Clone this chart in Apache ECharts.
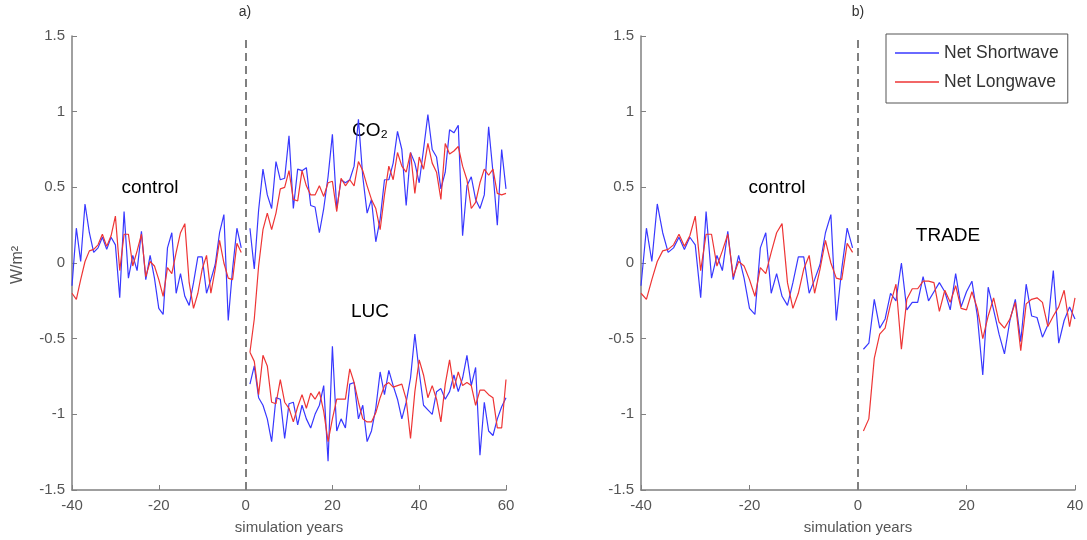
<!DOCTYPE html>
<html>
<head>
<meta charset="utf-8">
<script src="https://cdn.jsdelivr.net/npm/echarts@6/dist/echarts.min.js"></script>
<style>html,body{margin:0;padding:0;background:#fff;}#c{width:1087px;height:540px;}</style>
</head>
<body>
<div id="c"></div>
<script>
// ---- data ----
const yTicks = [-1.5, -1, -0.5, 0, 0.5, 1, 1.5];
const controlStart = -40;   // control years -40 .. -1
const expStart = 1;         // experiment years 1 .. N

const controlSW = [-0.15, 0.23, 0.01, 0.39, 0.2, 0.07, 0.1, 0.17, 0.09, 0.17,
  0.12, -0.23, 0.34, -0.1, 0.05, -0.05, 0.21, -0.11, 0.05, -0.1,
  -0.3, -0.34, 0.1, 0.2, -0.2, -0.07, -0.22, -0.28, -0.13, 0.04,
  0.04, -0.2, -0.11, -0.01, 0.2, 0.32, -0.38, -0.04, 0.23, 0.1];
const controlLW = [-0.2, -0.24, -0.11, 0.01, 0.08, 0.09, 0.12, 0.19, 0.11, 0.18,
  0.31, -0.05, 0.19, 0.19, -0.02, 0.08, 0.19, -0.09, 0.01, -0.02,
  -0.11, -0.22, -0.03, -0.07, 0.07, 0.2, 0.26, -0.13, -0.3, -0.2,
  -0.04, 0.05, -0.2, -0.04, 0.15, 0.0, -0.1, -0.11, 0.13, 0.07];

const co2SW = [0.23, -0.04, 0.35, 0.62, 0.45, 0.36, 0.67, 0.55, 0.56, 0.84,
  0.36, 0.62, 0.61, 0.63, 0.38, 0.37, 0.2, 0.36, 0.57, 0.85,
  0.36, 0.55, 0.53, 0.55, 0.64, 0.95, 0.57, 0.33, 0.42, 0.14,
  0.29, 0.55, 0.55, 0.66, 0.87, 0.75, 0.38, 0.73, 0.66, 0.53,
  0.75, 0.98, 0.75, 0.7, 0.49, 0.6, 0.88, 0.86, 0.91, 0.18,
  0.51, 0.57, 0.42, 0.36, 0.45, 0.9, 0.6, 0.25, 0.75, 0.49];
const co2LW = [-0.59, -0.37, -0.02, 0.22, 0.33, 0.22, 0.33, 0.49, 0.5, 0.61,
  0.42, 0.41, 0.61, 0.51, 0.45, 0.45, 0.51, 0.44, 0.53, 0.54,
  0.34, 0.56, 0.51, 0.55, 0.51, 0.67, 0.61, 0.51, 0.42, 0.36,
  0.22, 0.45, 0.64, 0.55, 0.73, 0.64, 0.6, 0.73, 0.46, 0.7,
  0.62, 0.79, 0.66, 0.6, 0.42, 0.79, 0.72, 0.74, 0.77, 0.64,
  0.55, 0.36, 0.4, 0.53, 0.62, 0.58, 0.62, 0.46, 0.45, 0.46];

const lucSW = [-0.8, -0.68, -0.89, -0.94, -1.03, -1.18, -0.89, -0.9, -1.16, -0.93,
  -0.92, -1.07, -0.94, -1.03, -1.09, -1.0, -0.94, -0.81, -1.31, -0.55,
  -1.11, -1.03, -1.09, -0.8, -0.79, -1.03, -0.94, -1.18, -1.11, -0.96,
  -0.72, -0.87, -0.71, -0.81, -0.9, -1.03, -0.92, -0.76, -0.47, -0.72,
  -0.94, -0.97, -1.0, -0.85, -0.83, -0.9, -0.85, -0.74, -0.85, -0.76,
  -0.61, -0.81, -0.69, -1.27, -0.92, -1.11, -1.14, -1.03, -0.95, -0.89];
const lucLW = [-0.59, -0.65, -0.87, -0.61, -0.68, -0.92, -0.93, -0.77, -0.92, -0.96,
  -1.05, -0.95, -0.87, -0.96, -0.86, -0.9, -0.85, -0.98, -1.18, -1.03,
  -0.9, -0.9, -0.9, -0.7, -0.79, -0.92, -1.03, -1.05, -1.05, -0.99,
  -0.89, -0.81, -0.79, -0.82, -0.81, -0.8, -0.9, -1.16, -0.85, -0.64,
  -0.74, -0.89, -0.81, -0.9, -1.05, -0.8, -0.64, -0.83, -0.72, -0.81,
  -0.79, -0.81, -0.94, -0.84, -0.84, -0.87, -0.89, -1.09, -1.09, -0.77];

const tradeSW = [-0.57, -0.53, -0.24, -0.43, -0.37, -0.2, -0.25, 0.0, -0.31, -0.26,
  -0.26, -0.09, -0.25, -0.19, -0.13, -0.19, -0.31, -0.07, -0.29, -0.19,
  -0.12, -0.35, -0.74, -0.16, -0.31, -0.47, -0.6, -0.38, -0.24, -0.52,
  -0.14, -0.35, -0.36, -0.49, -0.41, -0.05, -0.53, -0.38, -0.29, -0.37];
const tradeLW = [-1.11, -1.03, -0.63, -0.47, -0.43, -0.27, -0.14, -0.57, -0.24, -0.17,
  -0.17, -0.12, -0.12, -0.13, -0.32, -0.18, -0.26, -0.15, -0.3, -0.31,
  -0.19, -0.3, -0.5, -0.35, -0.23, -0.39, -0.43, -0.37, -0.26, -0.58,
  -0.27, -0.24, -0.23, -0.26, -0.42, -0.35, -0.29, -0.18, -0.42, -0.23];

const nameSW = 'Net Shortwave';
const nameLW = 'Net Longwave';

// ---- chart ----
const BLUE = '#3838ff';
const RED = '#ee3535';
const AXIS = '#808080';
const FONT = "'Liberation Sans', Arial, sans-serif";

function pairs(start, vals) { return vals.map((v, i) => [start + i, v]); }

function line(name, color, idx, start, vals, extra) {
  return Object.assign({
    type: 'line', name: name, xAxisIndex: idx, yAxisIndex: idx,
    data: pairs(start, vals), symbol: 'none', showSymbol: false,
    lineStyle: { width: 1.2, color: color }, itemStyle: { color: color },
    silent: true, animation: false
  }, extra || {});
}

const zeroLine = {
  markLine: {
    silent: true, symbol: 'none', label: { show: false },
    lineStyle: { color: AXIS, width: 2, type: [8, 5] },
    data: [{ xAxis: 0 }]
  }
};

function xAxis(idx, max) {
  return {
    type: 'value', gridIndex: idx, min: -40, max: max, interval: 20,
    name: 'simulation years', nameLocation: 'middle', nameGap: 30,
    nameTextStyle: { color: '#555', fontSize: 15, fontFamily: FONT },
    axisLine: { show: true, onZero: false, lineStyle: { color: AXIS, width: 1.5 } },
    axisTick: { show: true, inside: true, length: 5, lineStyle: { color: AXIS } },
    axisLabel: { color: '#555', fontSize: 15, fontFamily: FONT, margin: 8 },
    splitLine: { show: false }
  };
}
function yAxis(idx) {
  return {
    type: 'value', gridIndex: idx, min: yTicks[0], max: yTicks[yTicks.length - 1], interval: 0.5,
    axisLine: { show: true, onZero: false, lineStyle: { color: AXIS, width: 1.5 } },
    axisTick: { show: true, inside: true, length: 5, lineStyle: { color: AXIS } },
    axisLabel: { color: '#555', fontSize: 15, fontFamily: FONT, margin: 7 },
    splitLine: { show: false }
  };
}

const txt = (x, y, s, size, color, extra) => Object.assign({
  type: 'text', x: x, y: y, silent: true,
  style: { text: s, fill: color || '#000', fontSize: size, fontFamily: FONT,
           textAlign: 'center', textVerticalAlign: 'middle' }
}, extra || {});

const chart = echarts.init(document.getElementById('c'), null, { renderer: 'canvas' });
chart.setOption({
  animation: false,
  backgroundColor: '#fff',
  grid: [
    { left: 72, right: 581, top: 36, bottom: 47 },
    { left: 641, right: 12, top: 36, bottom: 47 }
  ],
  xAxis: [xAxis(0, 60), xAxis(1, 40)],
  yAxis: [yAxis(0), yAxis(1)],
  legend: {
    orient: 'vertical', left: 886, top: 34,
    data: [nameSW, nameLW], selectedMode: false,
    icon: 'rect', itemWidth: 44, itemHeight: 1.5, itemGap: 11,
    padding: [10, 9, 12, 9],
    borderColor: '#555', borderWidth: 1, backgroundColor: '#fff',
    textStyle: { color: '#333', fontSize: 17.5, fontFamily: FONT }
  },
  series: [
    line(nameSW, BLUE, 0, controlStart, controlSW, zeroLine),
    line(nameLW, RED, 0, controlStart, controlLW),
    line(nameSW, BLUE, 0, expStart, co2SW),
    line(nameLW, RED, 0, expStart, co2LW),
    line(nameSW, BLUE, 0, expStart, lucSW),
    line(nameLW, RED, 0, expStart, lucLW),
    line(nameSW, BLUE, 1, controlStart, controlSW, zeroLine),
    line(nameLW, RED, 1, controlStart, controlLW),
    line(nameSW, BLUE, 1, expStart, tradeSW),
    line(nameLW, RED, 1, expStart, tradeLW)
  ],
  graphic: [
    txt(245, 12, 'a)', 14, '#333'),
    txt(858, 12, 'b)', 14, '#333'),
    txt(18, 265, 'W/m\u00B2', 16, '#555', { rotation: Math.PI / 2 }),
    txt(150, 188, 'control', 19),
    txt(370, 131, 'CO\u2082', 19),
    txt(370, 312, 'LUC', 19),
    txt(777, 188, 'control', 19),
    txt(948, 236, 'TRADE', 19)
  ]
});
</script>
</body>
</html>
